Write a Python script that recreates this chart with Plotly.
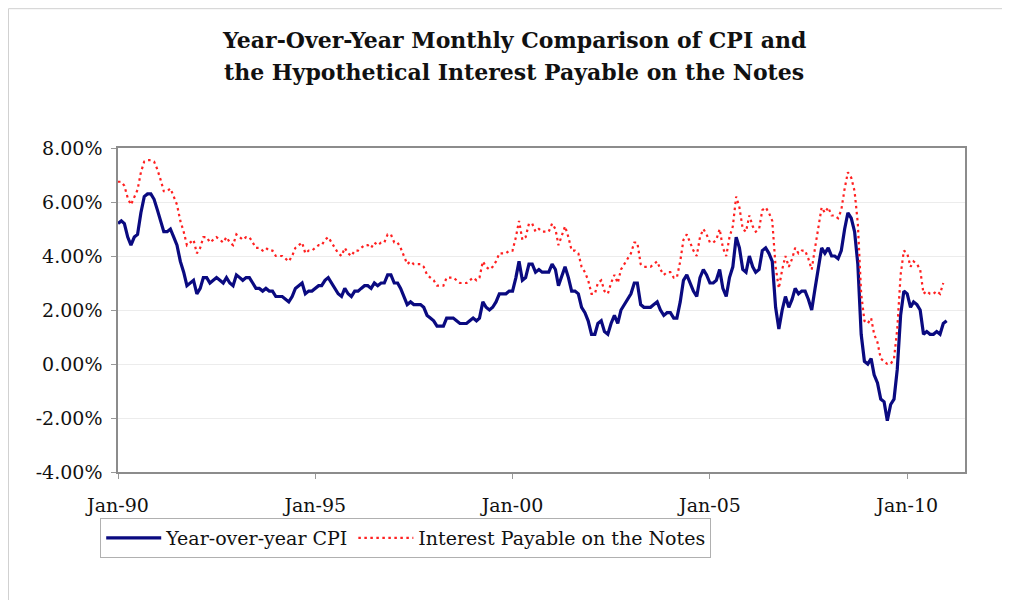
import plotly.graph_objects as go
import pandas as pd

# Year-over-year CPI (%), monthly Jan 1990 - Jan 2011
cpi = [
    5.2, 5.3, 5.2, 4.7, 4.4, 4.7, 4.8, 5.6, 6.2, 6.3, 6.3, 6.1,   # 1990
    5.7, 5.3, 4.9, 4.9, 5.0, 4.7, 4.4, 3.8, 3.4, 2.9, 3.0, 3.1,   # 1991
    2.6, 2.8, 3.2, 3.2, 3.0, 3.1, 3.2, 3.1, 3.0, 3.2, 3.0, 2.9,   # 1992
    3.3, 3.2, 3.1, 3.2, 3.2, 3.0, 2.8, 2.8, 2.7, 2.8, 2.7, 2.7,   # 1993
    2.5, 2.5, 2.5, 2.4, 2.3, 2.5, 2.8, 2.9, 3.0, 2.6, 2.7, 2.7,   # 1994
    2.8, 2.9, 2.9, 3.1, 3.2, 3.0, 2.8, 2.6, 2.5, 2.8, 2.6, 2.5,   # 1995
    2.7, 2.7, 2.8, 2.9, 2.9, 2.8, 3.0, 2.9, 3.0, 3.0, 3.3, 3.3,   # 1996
    3.0, 3.0, 2.8, 2.5, 2.2, 2.3, 2.2, 2.2, 2.2, 2.1, 1.8, 1.7,   # 1997
    1.6, 1.4, 1.4, 1.4, 1.7, 1.7, 1.7, 1.6, 1.5, 1.5, 1.5, 1.6,   # 1998
    1.7, 1.6, 1.7, 2.3, 2.1, 2.0, 2.1, 2.3, 2.6, 2.6, 2.6, 2.7,   # 1999
    2.7, 3.2, 3.8, 3.1, 3.2, 3.7, 3.7, 3.4, 3.5, 3.4, 3.4, 3.4,   # 2000
    3.7, 3.5, 2.9, 3.3, 3.6, 3.2, 2.7, 2.7, 2.6, 2.1, 1.9, 1.6,   # 2001
    1.1, 1.1, 1.5, 1.6, 1.2, 1.1, 1.5, 1.8, 1.5, 2.0, 2.2, 2.4,   # 2002
    2.6, 3.0, 3.0, 2.2, 2.1, 2.1, 2.1, 2.2, 2.3, 2.0, 1.8, 1.9,   # 2003
    1.9, 1.7, 1.7, 2.3, 3.1, 3.3, 3.0, 2.7, 2.5, 3.2, 3.5, 3.3,   # 2004
    3.0, 3.0, 3.1, 3.5, 2.8, 2.5, 3.2, 3.6, 4.7, 4.3, 3.5, 3.4,   # 2005
    4.0, 3.6, 3.4, 3.5, 4.2, 4.3, 4.1, 3.8, 2.1, 1.3, 2.0, 2.5,   # 2006
    2.1, 2.4, 2.8, 2.6, 2.7, 2.7, 2.4, 2.0, 2.8, 3.5, 4.3, 4.1,   # 2007
    4.3, 4.0, 4.0, 3.9, 4.2, 5.0, 5.6, 5.4, 4.9, 3.7, 1.1, 0.1,   # 2008
    0.0, 0.2, -0.4, -0.7, -1.3, -1.4, -2.1, -1.5, -1.3, -0.2, 1.8, 2.7,  # 2009
    2.6, 2.1, 2.3, 2.2, 2.0, 1.1, 1.2, 1.1, 1.1, 1.2, 1.1, 1.5,   # 2010
    1.6,                                                          # 2011
]

# Hypothetical interest payable on the notes (%), monthly Jan 1990 - Dec 2010
interest = [
    6.75, 6.75, 6.6, 6.15, 5.9, 6.2, 6.45, 7.1, 7.5, 7.55, 7.55, 7.5,  # 1990
    7.2, 6.8, 6.4, 6.4, 6.5, 6.2, 5.9, 5.3, 4.9, 4.4, 4.5, 4.6,   # 1991
    4.1, 4.3, 4.7, 4.7, 4.5, 4.6, 4.7, 4.6, 4.5, 4.7, 4.5, 4.4,   # 1992
    4.8, 4.7, 4.6, 4.7, 4.7, 4.5, 4.3, 4.3, 4.2, 4.3, 4.2, 4.2,   # 1993
    4.0, 4.0, 4.0, 3.9, 3.8, 4.0, 4.3, 4.4, 4.5, 4.1, 4.2, 4.2,   # 1994
    4.3, 4.4, 4.4, 4.6, 4.7, 4.5, 4.3, 4.1, 4.0, 4.3, 4.1, 4.0,   # 1995
    4.2, 4.2, 4.3, 4.4, 4.4, 4.3, 4.5, 4.4, 4.5, 4.5, 4.8, 4.8,   # 1996
    4.5, 4.5, 4.3, 4.0, 3.7, 3.8, 3.7, 3.7, 3.7, 3.6, 3.3, 3.2,   # 1997
    3.1, 2.9, 2.9, 2.9, 3.2, 3.2, 3.2, 3.1, 3.0, 3.0, 3.0, 3.1,   # 1998
    3.2, 3.1, 3.2, 3.8, 3.6, 3.5, 3.6, 3.8, 4.1, 4.1, 4.1, 4.2,   # 1999
    4.2, 4.7, 5.3, 4.6, 4.7, 5.2, 5.2, 4.9, 5.0, 4.9, 4.9, 4.9,   # 2000
    5.2, 5.0, 4.4, 4.8, 5.1, 4.7, 4.2, 4.2, 4.1, 3.6, 3.4, 3.1,   # 2001
    2.6, 2.6, 3.0, 3.1, 2.7, 2.6, 3.0, 3.3, 3.0, 3.5, 3.7, 3.9,   # 2002
    4.1, 4.5, 4.5, 3.7, 3.6, 3.6, 3.6, 3.7, 3.8, 3.5, 3.3, 3.4,   # 2003
    3.4, 3.2, 3.2, 3.8, 4.6, 4.8, 4.5, 4.2, 4.0, 4.7, 5.0, 4.8,   # 2004
    4.5, 4.5, 4.6, 5.0, 4.3, 4.0, 4.7, 5.1, 6.2, 5.8, 5.0, 4.9,   # 2005
    5.5, 5.1, 4.9, 5.0, 5.7, 5.8, 5.6, 5.3, 3.6, 2.8, 3.5, 4.0,   # 2006
    3.6, 3.9, 4.3, 4.1, 4.2, 4.2, 3.9, 3.5, 4.3, 5.0, 5.8, 5.6,   # 2007
    5.8, 5.5, 5.5, 5.4, 5.7, 6.5, 7.1, 6.9, 6.4, 5.2, 2.6, 1.6,   # 2008
    1.5, 1.7, 1.1, 0.8, 0.2, 0.1, 0.0, 0.0, 0.2, 1.3, 3.3, 4.2,   # 2009
    4.1, 3.6, 3.8, 3.7, 3.5, 2.6, 2.7, 2.6, 2.6, 2.7, 2.6, 3.0,   # 2010
]

cpi_dates = pd.date_range("1990-01-01", periods=len(cpi), freq="MS")
int_dates = pd.date_range("1990-01-01", periods=len(interest), freq="MS")

x_tick_vals = ["1990-01-01", "1995-01-01", "2000-01-01", "2005-01-01", "2010-01-01"]
x_tick_text = ["Jan-90", "Jan-95", "Jan-00", "Jan-05", "Jan-10"]
y_tick_vals = [-4, -2, 0, 2, 4, 6, 8]
y_tick_text = ["-4.00%", "-2.00%", "0.00%", "2.00%", "4.00%", "6.00%", "8.00%"]

title_lines = [
    "Year-Over-Year Monthly Comparison of CPI and",
    "the Hypothetical Interest Payable on the Notes",
]

FONT = "DejaVu Serif"

fig = go.Figure()
fig.add_trace(go.Scatter(
    x=cpi_dates, y=cpi, mode="lines", name="Year-over-year CPI",
    line=dict(color="#0A0A80", width=3.2),
))
fig.add_trace(go.Scatter(
    x=int_dates, y=interest, mode="lines", name="Interest Payable on the Notes",
    line=dict(color="#FF2020", width=2.2, dash="2.5px,3.5px"),
))

annotations = [
    dict(text="<b>%s</b>" % title_lines[0], xref="paper", yref="paper",
         x=0.4675, y=1.3333, xanchor="center", yanchor="middle", showarrow=False,
         font=dict(family=FONT, size=22, color="#111111")),
    dict(text="<b>%s</b>" % title_lines[1], xref="paper", yref="paper",
         x=0.4675, y=1.2346, xanchor="center", yanchor="middle", showarrow=False,
         font=dict(family=FONT, size=22, color="#111111")),
]

fig.update_layout(
    width=1002, height=592,
    margin=dict(l=110, r=45, t=140, b=128),
    paper_bgcolor="white", plot_bgcolor="white",
    font=dict(family=FONT, size=19, color="#111111"),
    annotations=annotations,
    showlegend=True,
    legend=dict(
        orientation="h", x=-0.021, xanchor="left", y=-0.142, yanchor="top",
        bordercolor="#b0b0b0", borderwidth=1, bgcolor="white",
        font=dict(family=FONT, size=19, color="#111111"),
        traceorder="normal", itemwidth=55,
    ),
    xaxis=dict(
        type="date", range=["1990-01-01", "2011-06-20"],
        tickmode="array", tickvals=x_tick_vals, ticktext=x_tick_text,
        ticks="outside", ticklen=5, tickcolor="#999999",
        showgrid=False, showline=True, mirror=True, linecolor="#8c8c8c", linewidth=1.5,
        zeroline=False, tickfont=dict(family=FONT, size=19),
        ticklabelstandoff=10,
    ),
    yaxis=dict(
        range=[-4, 8], tickmode="array", tickvals=y_tick_vals, ticktext=y_tick_text,
        ticks="outside", ticklen=5, tickcolor="#999999",
        showgrid=True, gridcolor="#ececec", gridwidth=1,
        showline=True, mirror=True, linecolor="#8c8c8c", linewidth=1.5,
        zeroline=False, tickfont=dict(family=FONT, size=19),
        ticklabelstandoff=5,
    ),
    shapes=[
        dict(type="line", xref="paper", yref="paper", x0=-0.1293, x1=-0.1293, y0=1.43, y1=-0.5,
             line=dict(color="#d0d0d0", width=1)),
        dict(type="line", xref="paper", yref="paper", x0=-0.1293, x1=1.1, y0=1.43, y1=1.43,
             line=dict(color="#d0d0d0", width=1)),
    ],
)

fig.write_html("out.html")
